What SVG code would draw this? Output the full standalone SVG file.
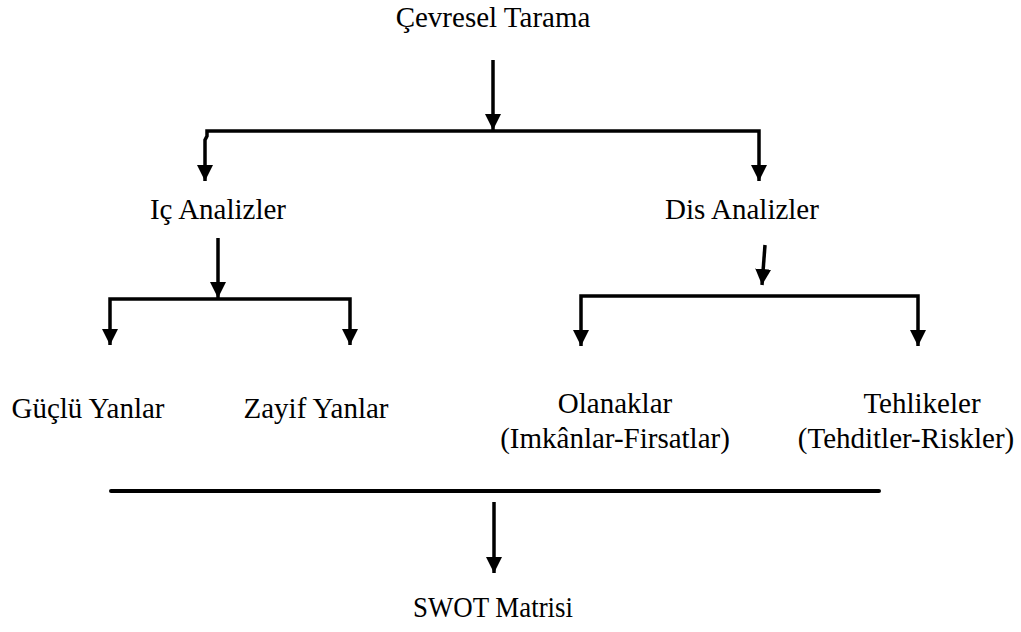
<svg xmlns="http://www.w3.org/2000/svg" width="1021" height="632" viewBox="0 0 1021 632">
  <style>
    .label { font-family: "Liberation Serif", "Times New Roman", serif; font-size: 29px; fill: #000; text-anchor: middle; }
    .wire { fill: none; stroke: #000; stroke-width: 3.5; stroke-linejoin: miter; }
    .arrow { marker-end: url(#head); }
  </style>
  <defs>
    <!-- solid triangular arrowhead, tip at the path end -->
    <marker id="head" markerUnits="userSpaceOnUse" markerWidth="16" markerHeight="16" viewBox="0 0 16 16" refX="16" refY="8" orient="auto">
      <path d="M0,0 L16,8 L0,16 Z" fill="#000"/>
    </marker>
  </defs>

  <!-- connectors -->
  <g id="connectors">
    <!-- scan to the two analysis branches -->
    <line class="wire arrow" x1="493" y1="60" x2="493" y2="130"/>
    <path class="wire arrow" d="M493,131 H207 V136 L205,140 V181"/>
    <path class="wire arrow" d="M493,131 H759 V181"/>

    <!-- internal branch -->
    <line class="wire arrow" x1="218" y1="238" x2="218" y2="298"/>
    <path class="wire arrow" d="M230,299 H110 V345"/>
    <path class="wire arrow" d="M230,299 H350 V345"/>

    <!-- external branch -->
    <line class="wire arrow" x1="765" y1="245" x2="762" y2="285"/>
    <path class="wire arrow" d="M750,296 H581 V346"/>
    <path class="wire arrow" d="M750,296 H918 V346"/>

    <!-- summary bar to the matrix -->
    <line x1="111" y1="491" x2="879" y2="491" stroke="#000" stroke-width="4" stroke-linecap="round"/>
    <line class="wire arrow" x1="494" y1="502" x2="494" y2="573"/>
  </g>

  <g id="node-scan"><text class="label" x="493" y="27">Çevresel Tarama</text></g>
  <g id="node-internal"><text class="label" x="218" y="219">Iç Analizler</text></g>
  <g id="node-external"><text class="label" x="742" y="219">Dis Analizler</text></g>
  <g id="node-strengths"><text class="label" x="88" y="418">Güçlü Yanlar</text></g>
  <g id="node-weaknesses"><text class="label" x="316" y="418">Zayif Yanlar</text></g>
  <g id="node-opportunities">
    <text class="label" x="615" y="413">Olanaklar</text>
    <text class="label" x="615" y="448" font-size="28">(Imkânlar-Firsatlar)</text>
  </g>
  <g id="node-threats">
    <text class="label" x="922" y="413">Tehlikeler</text>
    <text class="label" x="906" y="448" font-size="28">(Tehditler-Riskler)</text>
  </g>
  <g id="node-swot"><text class="label" x="493" y="617" font-size="26" textLength="160" lengthAdjust="spacingAndGlyphs">SWOT Matrisi</text></g>
</svg>
